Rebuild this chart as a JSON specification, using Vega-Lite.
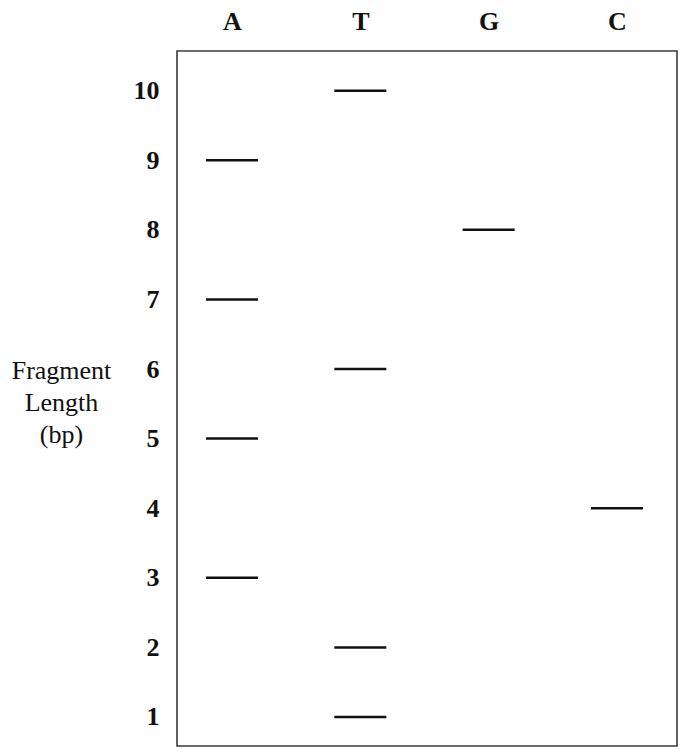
{
  "$schema": "https://vega.github.io/schema/vega-lite/v6.json",
  "autosize": {"type": "none"},
  "padding": {"left": 177, "top": 51, "right": 6, "bottom": 9},
  "width": 500,
  "height": 695,
  "config": {
    "view": {"stroke": "#3a3a3a", "strokeWidth": 1.6},
    "font": "Liberation Serif"
  },
  "data": {
    "values": [
      {"base": "A", "length": 9},
      {"base": "A", "length": 7},
      {"base": "A", "length": 5},
      {"base": "A", "length": 3},
      {"base": "T", "length": 10},
      {"base": "T", "length": 6},
      {"base": "T", "length": 2},
      {"base": "T", "length": 1},
      {"base": "G", "length": 8},
      {"base": "C", "length": 4}
    ]
  },
  "mark": {"type": "tick", "orient": "horizontal", "size": 52, "thickness": 2.5, "color": "#111111", "opacity": 1},
  "encoding": {
    "x": {
      "field": "base",
      "type": "nominal",
      "sort": ["A", "T", "G", "C"],
      "scale": {"type": "point", "domain": ["A", "T", "G", "C"], "range": [55, 440], "padding": 0},
      "axis": {
        "orient": "top",
        "title": null,
        "ticks": false,
        "domain": false,
        "labelFont": "Liberation Serif",
        "labelFontWeight": "bold",
        "labelFontSize": 26,
        "labelColor": "#111111",
        "labelBaseline": "alphabetic",
        "labelPadding": 22,
        "labelAngle": 0
      }
    },
    "y": {
      "field": "length",
      "type": "quantitative",
      "scale": {"domain": [0.583, 10.57], "nice": false, "zero": false},
      "axis": {
        "values": [1, 2, 3, 4, 5, 6, 7, 8, 9, 10],
        "format": "d",
        "grid": false,
        "ticks": false,
        "domain": false,
        "labelFont": "Liberation Serif",
        "labelFontWeight": "bold",
        "labelFontSize": 26,
        "labelColor": "#111111",
        "labelPadding": 18,
        "title": ["Fragment", "Length", "(bp)"],
        "titleFont": "Liberation Serif",
        "titleFontWeight": "normal",
        "titleFontSize": 26,
        "titleColor": "#111111",
        "titleAngle": 0,
        "titleAlign": "center",
        "titleBaseline": "alphabetic",
        "titleLineHeight": 32,
        "titleX": -116,
        "titleY": 327
      }
    }
  }
}
